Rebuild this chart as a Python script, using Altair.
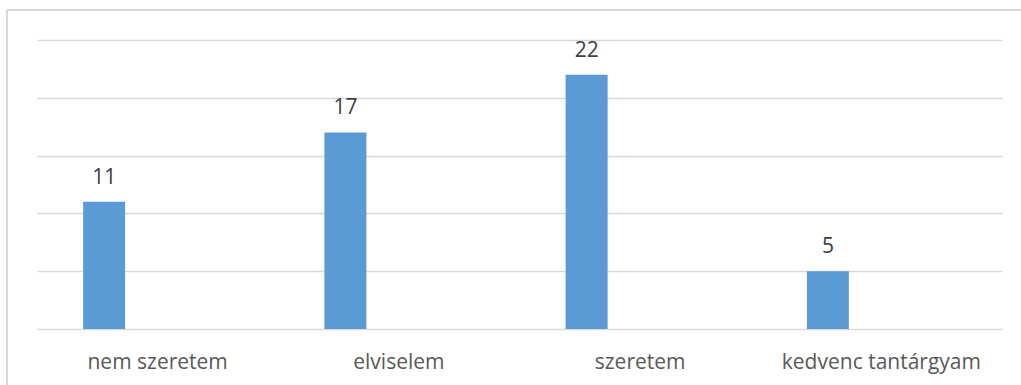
import altair as alt
import pandas as pd

# Answers to "how do you feel about the subject?"
categories = ["nem szeretem", "elviselem", "szeretem", "kedvenc tantárgyam"]
counts = [11, 17, 22, 5]
grid_values = [0, 5, 10, 15, 20, 25]

df = pd.DataFrame({"valasz": categories, "db": counts})

FONT = "Open Sans"
TEXT_COLOR = "#595959"
BAR_COLOR = "#5B9BD5"
GRID_COLOR = "#D9D9D9"

x_enc = alt.X(
    "valasz:N",
    sort=categories,
    scale=alt.Scale(paddingInner=0, paddingOuter=0),
    axis=alt.Axis(
        title=None,
        labelAngle=0,
        labelFont=FONT,
        labelFontSize=21,
        labelColor=TEXT_COLOR,
        labelBaseline="alphabetic",
        labelPadding=39,
        labelLimit=0,
        labelOverlap=False,
        ticks=False,
        tickSize=0,
        domain=False,
        grid=False,
    ),
)
y_enc = alt.Y(
    "db:Q",
    scale=alt.Scale(domain=[0, 25], nice=False, zero=True),
    axis=alt.Axis(
        title=None,
        labels=False,
        ticks=False,
        domain=False,
        values=grid_values,
        grid=True,
        gridColor=GRID_COLOR,
        gridWidth=1.3,
    ),
)

bars = alt.Chart(df).mark_bar(width=42, xOffset=-53.5, color=BAR_COLOR).encode(
    x=x_enc, y=y_enc
)

labels = alt.Chart(df).mark_text(
    xOffset=-53.5,
    dy=-18,
    baseline="alphabetic",
    font=FONT,
    fontSize=21,
    color="#404040",
).encode(x=alt.X("valasz:N", sort=categories), y=alt.Y("db:Q"), text="db:Q")

# Frame around the whole figure (left and top edges fall inside the page)
frame_top = alt.Chart(df).mark_rule(color="#D9D9D9", strokeWidth=1.5).encode(
    x=alt.value(-30), x2=alt.value(1100), y=alt.value(-30)
)
frame_left = alt.Chart(df).mark_rule(color="#D9D9D9", strokeWidth=1.5).encode(
    x=alt.value(-30), y=alt.value(-30), y2=alt.value(400)
)

chart = (
    alt.layer(frame_top, frame_left, bars, labels)
    .properties(
        width=965,
        height=289,
        autosize=alt.AutoSizeParams(type="none"),
        padding={"left": 37, "top": 40, "right": 19, "bottom": 56},
        background="white",
    )
    .configure_view(stroke=None)
)

chart.save("out.html", embed_options={"renderer": "svg", "actions": False})
